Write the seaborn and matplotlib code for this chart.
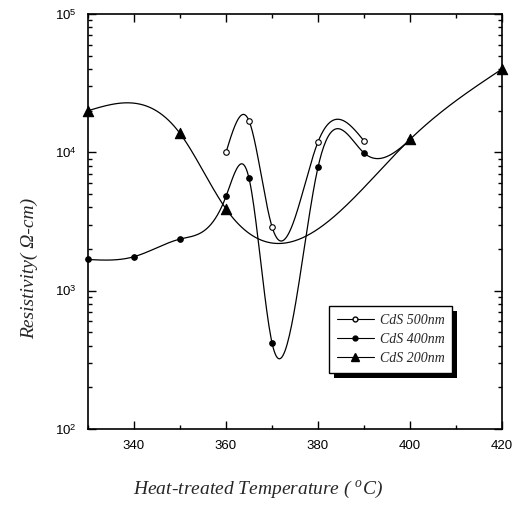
import numpy as np
import pandas as pd
import matplotlib
matplotlib.use("Agg")
import matplotlib.pyplot as plt
import matplotlib.patheffects as pe
import seaborn as sns
from matplotlib.lines import Line2D
from matplotlib.ticker import FixedLocator, FixedFormatter, LogLocator, NullFormatter

# ---- data ----
temp_500 = [360, 365, 370, 380, 390]
res_500 = [1.0e4, 1.69e4, 2.9e3, 1.19e4, 1.21e4]

temp_400 = [330, 340, 350, 360, 365, 370, 380, 390, 400]
res_400 = [1.68e3, 1.76e3, 2.36e3, 4.8e3, 6.5e3, 4.2e2, 7.8e3, 9.9e3, 1.23e4]

temp_200 = [330, 350, 360, 400, 420]
res_200 = [2.0e4, 1.37e4, 3.9e3, 1.24e4, 4.0e4]

series_names = ["CdS 500nm", "CdS 400nm", "CdS 200nm"]
x_ticks = [340, 360, 380, 400, 420]
x_tick_labels = ["340", "360", "380", "400", "420"]
y_ticks = [1e2, 1e3, 1e4, 1e5]
y_tick_labels = [r"$10^{2}$", r"$10^{3}$", r"$10^{4}$", r"$10^{5}$"]


def natural_spline(x, y, n=300):
    """Natural cubic spline through (x, y); used only to draw the smooth connecting line."""
    x = np.asarray(x, float)
    y = np.asarray(y, float)
    k = len(x)
    h = np.diff(x)
    A = np.zeros((k, k))
    b = np.zeros(k)
    A[0, 0] = 1
    A[-1, -1] = 1
    for i in range(1, k - 1):
        A[i, i - 1] = h[i - 1]
        A[i, i] = 2 * (h[i - 1] + h[i])
        A[i, i + 1] = h[i]
        b[i] = 6 * ((y[i + 1] - y[i]) / h[i] - (y[i] - y[i - 1]) / h[i - 1])
    M = np.linalg.solve(A, b)
    xs = np.linspace(x[0], x[-1], n)
    idx = np.clip(np.searchsorted(x, xs) - 1, 0, k - 2)
    x0, x1 = x[idx], x[idx + 1]
    hh = x1 - x0
    t0 = x1 - xs
    t1 = xs - x0
    ys = (M[idx] * t0 ** 3 / (6 * hh) + M[idx + 1] * t1 ** 3 / (6 * hh)
          + (y[idx] / hh - M[idx] * hh / 6) * t0
          + (y[idx + 1] / hh - M[idx + 1] * hh / 6) * t1)
    return xs, ys


sns.set_style("ticks", {"xtick.direction": "in", "ytick.direction": "in"})
plt.rcParams["font.family"] = ["Liberation Sans", "DejaVu Sans"]
plt.rcParams["mathtext.fontset"] = "custom"
plt.rcParams["mathtext.rm"] = "Liberation Sans"
plt.rcParams["mathtext.it"] = "Liberation Serif:italic"

fig = plt.figure(figsize=(5.21, 5.08), dpi=100)
ax = fig.add_axes([88 / 521, 1 - 429 / 508, 414 / 521, 415 / 508])

markers = {"CdS 500nm": "o", "CdS 400nm": "o", "CdS 200nm": "^"}
face = {"CdS 500nm": "white", "CdS 400nm": "black", "CdS 200nm": "black"}
msize = {"CdS 500nm": 16, "CdS 400nm": 16, "CdS 200nm": 55}

for name, tx, ry in zip(series_names, [temp_500, temp_400, temp_200],
                        [res_500, res_400, res_200]):
    xs, ls = natural_spline(tx, np.log10(ry))
    curve = pd.DataFrame({"T": xs, "R": 10 ** ls})
    sns.lineplot(data=curve, x="T", y="R", ax=ax, color="black", lw=0.9,
                 sort=False, estimator=None)
    pts = pd.DataFrame({"T": tx, "R": ry})
    sns.scatterplot(data=pts, x="T", y="R", ax=ax, marker=markers[name],
                    s=msize[name], color=face[name], edgecolor="black",
                    linewidth=0.8, zorder=5, clip_on=False)

ax.set_yscale("log")
ax.set_xlim(330, 420)
ax.set_ylim(1e2, 1e5)

ax.xaxis.set_major_locator(FixedLocator(x_ticks))
ax.xaxis.set_major_formatter(FixedFormatter(x_tick_labels))
ax.xaxis.set_minor_locator(FixedLocator([330, 350, 370, 390, 410]))
ax.yaxis.set_major_locator(FixedLocator(y_ticks))
ax.yaxis.set_major_formatter(FixedFormatter(y_tick_labels))
ax.yaxis.set_minor_locator(LogLocator(base=10, subs=np.arange(2, 10), numticks=20))
ax.yaxis.set_minor_formatter(NullFormatter())

ax.tick_params(which="both", direction="in", top=True, right=True,
               colors="black", labelsize=9.5, width=1.0)
ax.tick_params(which="major", length=6, pad=8)
ax.tick_params(which="minor", length=3)
for sp in ax.spines.values():
    sp.set_linewidth(1.2)
    sp.set_color("black")

ax.set_xlabel("Heat-treated Temperature ( $^{o}$C)", family="Liberation Serif",
              style="italic", fontsize=14, va="center")
ax.xaxis.set_label_coords(0.41, -0.145)
ax.set_ylabel("Resistivity( Ω-cm)", family="Liberation Serif", style="italic",
              fontsize=14, va="center")
ax.yaxis.set_label_coords(-0.1425, 0.388)

handles = [
    Line2D([], [], color="black", lw=0.8, marker="o", ms=3.5, mfc="white", mec="black"),
    Line2D([], [], color="black", lw=0.8, marker="o", ms=3.5, mfc="black", mec="black"),
    Line2D([], [], color="black", lw=0.8, marker="^", ms=6, mfc="black", mec="black"),
]
leg = ax.legend(handles, series_names, loc="lower left", bbox_to_anchor=(0.582, 0.135),
                frameon=True, fancybox=False, shadow=False,
                handlelength=2.7, handletextpad=0.4, labelspacing=0.45,
                borderpad=0.55, borderaxespad=0,
                prop={"family": "Liberation Serif", "style": "italic", "size": 10})
frame = leg.get_frame()
frame.set_edgecolor("black")
frame.set_linewidth(1.0)
frame.set_alpha(1)
frame.set_path_effects([pe.SimplePatchShadow(offset=(3.6, -3.6), shadow_rgbFace="black",
                                             alpha=1.0), pe.Normal()])

fig.savefig("out.png", dpi=100)
